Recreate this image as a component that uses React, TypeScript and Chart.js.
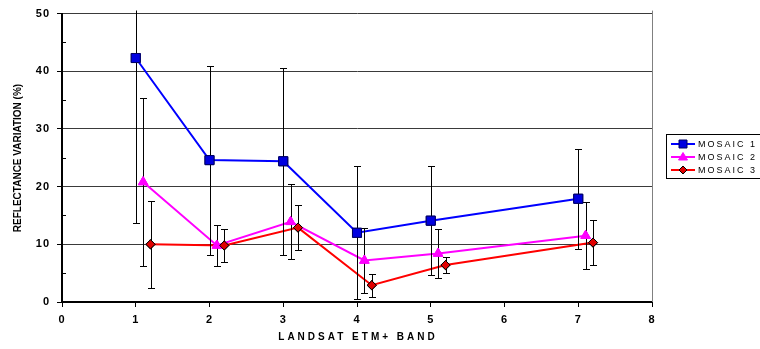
import React, { useEffect, useRef } from "react";
import { Chart, registerables } from "chart.js";

Chart.register(...registerables);

const bands = [1, 2, 3, 4, 5, 7];
const seriesNames = ["MOSAIC 1", "MOSAIC 2", "MOSAIC 3"];
const seriesOffset = [0, 0.1, 0.2];
const mosaic1 = [42.3, 24.6, 24.4, 12.0, 14.1, 17.9];
const mosaic1Err = [28.6, 16.4, 16.2, 11.5, 9.4, 8.7];
const mosaic2 = [20.8, 9.8, 13.9, 7.2, 8.4, 11.5];
const mosaic2Err = [14.6, 3.6, 6.5, 5.6, 4.3, 5.8];
const mosaic3 = [10.0, 9.8, 12.9, 2.9, 6.4, 10.3];
const mosaic3Err = [7.5, 2.9, 3.9, 2.0, 1.35, 3.9];
const xTitle = "LANDSAT ETM+ BAND";
const yTitle = "REFLECTANCE VARIATION (%)";

const values = [mosaic1, mosaic2, mosaic3];
const errors = [mosaic1Err, mosaic2Err, mosaic3Err];

const styles = [
  { line: "#0000FF", fill: "#0000E0", border: "#000066", shape: "rect", radius: 6.4 },
  { line: "#FF00FF", fill: "#FF00FF", border: "#FF00FF", shape: "triangle", radius: 5.5 },
  { line: "#FF0000", fill: "#E00000", border: "#000000", shape: "rectRot", radius: 4.6 },
];

const FONT = '"Liberation Sans", Arial, sans-serif';

function legendMarker(ctx: CanvasRenderingContext2D, shape: string, x: number, y: number) {
  ctx.beginPath();
  if (shape === "rect") {
    ctx.rect(x - 4, y - 4, 8, 8);
  } else if (shape === "triangle") {
    ctx.moveTo(x, y - 4.5);
    ctx.lineTo(x + 4.5, y + 3);
    ctx.lineTo(x - 4.5, y + 3);
    ctx.closePath();
  } else {
    ctx.moveTo(x, y - 4);
    ctx.lineTo(x + 4, y);
    ctx.lineTo(x, y + 4);
    ctx.lineTo(x - 4, y);
    ctx.closePath();
  }
  ctx.fill();
  ctx.stroke();
}

export default function App() {
  const ref = useRef<HTMLCanvasElement | null>(null);

  useEffect(() => {
    const canvas = ref.current;
    if (!canvas) return;

    const extras = {
      id: "extras",
      beforeDraw(chart: any) {
        chart.ctx.letterSpacing = "1px";
      },
      afterDatasetsDraw(chart: any) {
        const { ctx, chartArea } = chart;
        const xs = chart.scales.x;
        const ys = chart.scales.y;
        ctx.save();
        ctx.beginPath();
        ctx.rect(chartArea.left, chartArea.top - 3, chartArea.right - chartArea.left, chartArea.bottom - chartArea.top + 3);
        ctx.clip();
        ctx.strokeStyle = "#000";
        ctx.lineWidth = 1;
        values.forEach((vals, si) => {
          vals.forEach((v, i) => {
            const x = Math.round(xs.getPixelForValue(bands[i] + seriesOffset[si])) + 0.5;
            const yt = Math.round(ys.getPixelForValue(v + errors[si][i])) + 0.5;
            const yb = Math.round(ys.getPixelForValue(v - errors[si][i])) + 0.5;
            ctx.beginPath();
            ctx.moveTo(x, yt);
            ctx.lineTo(x, yb);
            ctx.moveTo(x - 3.5, yt);
            ctx.lineTo(x + 3.5, yt);
            ctx.moveTo(x - 3.5, yb);
            ctx.lineTo(x + 3.5, yb);
            ctx.stroke();
          });
        });
        ctx.restore();
        chart.data.datasets.forEach((_: any, di: number) => {
          const meta = chart.getDatasetMeta(di);
          meta.data.forEach((pt: any) => pt.draw(ctx, chartArea));
        });
      },
      afterDraw(chart: any) {
        const { ctx, chartArea } = chart;
        const ys = chart.scales.y;
        ctx.save();
        ctx.strokeStyle = "#808080";
        ctx.lineWidth = 1;
        ctx.beginPath();
        ctx.moveTo(Math.round(chartArea.right) + 0.5, chartArea.top - 3);
        ctx.lineTo(Math.round(chartArea.right) + 0.5, chartArea.bottom);
        ctx.stroke();
        ctx.strokeStyle = "#000";
        for (let v = 5; v < 50; v += 10) {
          const y = Math.round(ys.getPixelForValue(v)) + 0.5;
          ctx.beginPath();
          ctx.moveTo(chartArea.left, y);
          ctx.lineTo(chartArea.left + 4, y);
          ctx.stroke();
        }
        ctx.fillStyle = "#000";
        ctx.font = `bold 10px ${FONT}`;
        ctx.textAlign = "center";
        ctx.textBaseline = "middle";
        ctx.letterSpacing = "3px";
        ctx.fillText(xTitle, (chartArea.left + chartArea.right) / 2 + 1, 337);
        ctx.letterSpacing = "0px";
        ctx.save();
        ctx.translate(18, 158);
        ctx.rotate(-Math.PI / 2);
        ctx.fillText(yTitle, 0, 0);
        ctx.restore();
        ctx.strokeStyle = "#000";
        ctx.lineWidth = 1;
        ctx.strokeRect(666.5, 134.5, 94, 44);
        const rowsY = [144, 157, 170];
        ctx.font = `9px ${FONT}`;
        ctx.textAlign = "left";
        ctx.letterSpacing = "2px";
        styles.forEach((s, i) => {
          const y = rowsY[i];
          ctx.strokeStyle = s.line;
          ctx.lineWidth = 2;
          ctx.beginPath();
          ctx.moveTo(671, y);
          ctx.lineTo(695, y);
          ctx.stroke();
          ctx.fillStyle = s.fill;
          ctx.strokeStyle = s.border;
          ctx.lineWidth = 1;
          legendMarker(ctx, s.shape, 683, y);
          ctx.fillStyle = "#000";
          ctx.fillText(seriesNames[i], 698, y + 0.5);
        });
        ctx.restore();
      },
    };

    const chart = new Chart(canvas, {
      type: "line",
      data: {
        datasets: values.map((vals, si) => ({
          label: seriesNames[si],
          data: vals.map((v, i) => ({ x: bands[i] + seriesOffset[si], y: v })),
          borderColor: styles[si].line,
          backgroundColor: styles[si].fill,
          pointBackgroundColor: styles[si].fill,
          pointBorderColor: styles[si].border,
          pointBorderWidth: 1,
          pointStyle: styles[si].shape as any,
          pointRadius: styles[si].radius,
          borderWidth: 2,
          tension: 0,
          fill: false,
        })),
      },
      options: {
        animation: false,
        responsive: false,
        maintainAspectRatio: false,
        layout: { padding: { top: 11, right: 108, left: 0, bottom: 0 } },
        plugins: { legend: { display: false }, tooltip: { enabled: false } },
        events: [],
        scales: {
          x: {
            type: "linear",
            min: 0,
            max: 8,
            ticks: { stepSize: 1, color: "#000", font: { family: FONT, size: 11, weight: "bold" }, padding: 6 },
            grid: { drawOnChartArea: false, tickLength: 5, tickColor: "#000", color: "#000" },
            border: { color: "#000", width: 2 },
            afterFit: (s: any) => { s.height = 47; },
          },
          y: {
            min: 0,
            max: 50,
            ticks: {
              stepSize: 5,
              color: "#000",
              font: { family: FONT, size: 11, weight: "bold" },
              padding: 7,
              callback: (v: any) => (Number(v) % 10 === 0 ? String(v) : ""),
            },
            grid: {
              tickLength: 5,
              color: (c: any) => (c.tick && c.tick.value % 10 === 0 ? "#3a3a3a" : "transparent"),
              tickColor: (c: any) => (c.tick && c.tick.value % 10 === 0 ? "#000" : "transparent"),
              lineWidth: 1,
            },
            border: { color: "#000", width: 2 },
            afterFit: (s: any) => { s.width = 62; },
          },
        },
      },
      plugins: [extras],
    });

    return () => chart.destroy();
  }, []);

  return (
    <div style={{ position: "absolute", left: 0, top: 0, width: 760, height: 349, background: "#fff" }}>
      <canvas ref={ref} width={760} height={349} style={{ width: 760, height: 349, display: "block" }} />
    </div>
  );
}
